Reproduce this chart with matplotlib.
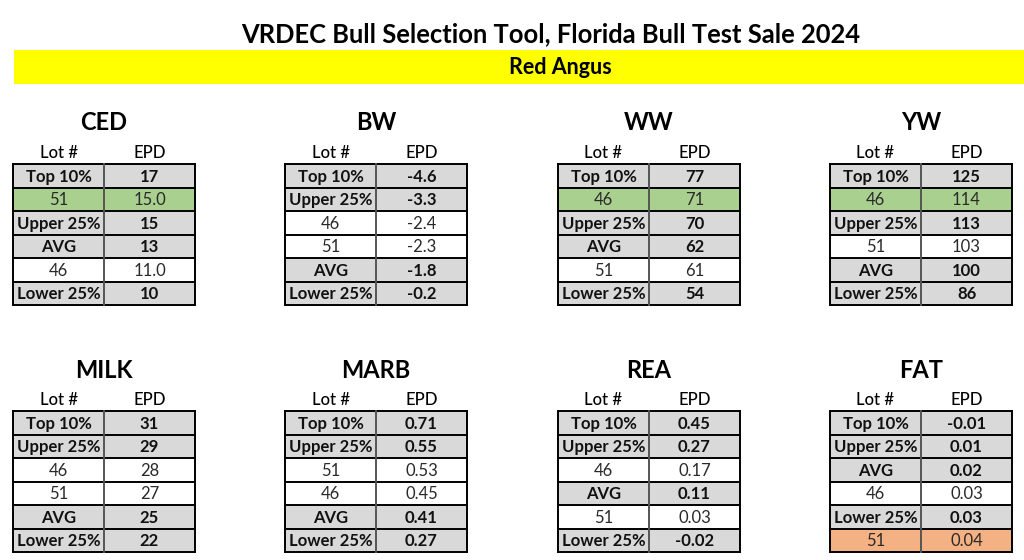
import matplotlib
matplotlib.use("Agg")
import matplotlib.pyplot as plt
from matplotlib.patches import Rectangle

plt.rcParams['font.family'] = ['Lato', 'DejaVu Sans']

title = "VRDEC Bull Selection Tool, Florida Bull Test Sale 2024"
breed = "Red Angus"

# traits, in reading order (top row then bottom row)
traits = ["CED", "BW", "WW", "YW", "MILK", "MARB", "REA", "FAT"]

ced_lots = ["Top 10%", "51", "Upper 25%", "AVG", "46", "Lower 25%"]
ced_epd = ["17", "15.0", "15", "13", "11.0", "10"]

bw_lots = ["Top 10%", "Upper 25%", "46", "51", "AVG", "Lower 25%"]
bw_epd = ["-4.6", "-3.3", "-2.4", "-2.3", "-1.8", "-0.2"]

ww_lots = ["Top 10%", "46", "Upper 25%", "AVG", "51", "Lower 25%"]
ww_epd = ["77", "71", "70", "62", "61", "54"]

yw_lots = ["Top 10%", "46", "Upper 25%", "51", "AVG", "Lower 25%"]
yw_epd = ["125", "114", "113", "103", "100", "86"]

milk_lots = ["Top 10%", "Upper 25%", "46", "51", "AVG", "Lower 25%"]
milk_epd = ["31", "29", "28", "27", "25", "22"]

marb_lots = ["Top 10%", "Upper 25%", "51", "46", "AVG", "Lower 25%"]
marb_epd = ["0.71", "0.55", "0.53", "0.45", "0.41", "0.27"]

rea_lots = ["Top 10%", "Upper 25%", "46", "AVG", "51", "Lower 25%"]
rea_epd = ["0.45", "0.27", "0.17", "0.11", "0.03", "-0.02"]

fat_lots = ["Top 10%", "Upper 25%", "AVG", "46", "Lower 25%", "51"]
fat_epd = ["-0.01", "0.01", "0.02", "0.03", "0.03", "0.04"]

# which lot rows are highlighted (trait -> (lot, colour))
highlights = {"CED": ("51", "#a9d08e"), "WW": ("46", "#a9d08e"),
              "YW": ("46", "#a9d08e"), "FAT": ("51", "#f4b183")}

tables = {
    "CED": (ced_lots, ced_epd), "BW": (bw_lots, bw_epd),
    "WW": (ww_lots, ww_epd), "YW": (yw_lots, yw_epd),
    "MILK": (milk_lots, milk_epd), "MARB": (marb_lots, marb_epd),
    "REA": (rea_lots, rea_epd), "FAT": (fat_lots, fat_epd),
}

percentiles = {"Top 10%", "Upper 25%", "AVG", "Lower 25%"}

# layout in pixels
W, H = 1024, 560
col_x0 = [13, 285, 558, 830]
row_y0 = [164, 411]
cell_w = 91
cell_h = 23.5
grey = "#d9d9d9"

fig = plt.figure(figsize=(W / 100, H / 100), dpi=100)
ax = fig.add_axes([0, 0, 1, 1])
ax.set_xlim(0, W)
ax.set_ylim(H, 0)
ax.axis("off")

ax.text(551, 34, title, ha="center", va="center", fontsize=18.4, fontweight="bold")
ax.add_patch(Rectangle((14, 50), W - 14, 34, facecolor="#ffff00", edgecolor="none"))
ax.text(560, 68, breed, ha="center", va="center", fontsize=15.5, fontweight="bold")

for i, trait in enumerate(traits):
    x0 = col_x0[i % 4]
    y0 = row_y0[i // 4]
    lots, epds = tables[trait]
    ax.text(x0 + cell_w, y0 - 41, trait, ha="center", va="center",
            fontsize=17, fontweight="bold")
    ax.text(x0 + cell_w / 2, y0 - 11, "Lot #", ha="center", va="center",
            fontsize=12, fontweight="medium")
    ax.text(x0 + cell_w * 1.5, y0 - 11, "EPD", ha="center", va="center",
            fontsize=12, fontweight="medium")
    for r, (lot, epd) in enumerate(zip(lots, epds)):
        y = y0 + r * cell_h
        is_pct = lot in percentiles
        if is_pct:
            fill = grey
        elif trait in highlights and highlights[trait][0] == lot:
            fill = highlights[trait][1]
        else:
            fill = "white"
        ax.add_patch(Rectangle((x0, y), 2 * cell_w, cell_h, facecolor=fill,
                               edgecolor="none"))
        weight = "bold" if is_pct else "normal"
        color = "#111111" if is_pct else "#2a2a2a"
        ax.text(x0 + cell_w / 2, y + cell_h / 2 + 1, lot, ha="center", va="center",
                fontsize=12, fontweight=weight, color=color)
        ax.text(x0 + cell_w * 1.5, y + cell_h / 2 + 1, epd, ha="center", va="center",
                fontsize=12, fontweight=weight, color=color)
        ax.plot([x0, x0 + 2 * cell_w], [y, y], color="black", lw=1.4)
    y_end = y0 + len(lots) * cell_h
    ax.plot([x0, x0 + 2 * cell_w], [y_end, y_end], color="black", lw=1.4)
    ax.plot([x0, x0], [y0, y_end], color="black", lw=1.4)
    ax.plot([x0 + 2 * cell_w, x0 + 2 * cell_w], [y0, y_end], color="black", lw=1.4)
    ax.plot([x0 + cell_w, x0 + cell_w], [y0, y_end], color="#555555", lw=1.4)

fig.savefig("out.png", dpi=100, facecolor="white")
